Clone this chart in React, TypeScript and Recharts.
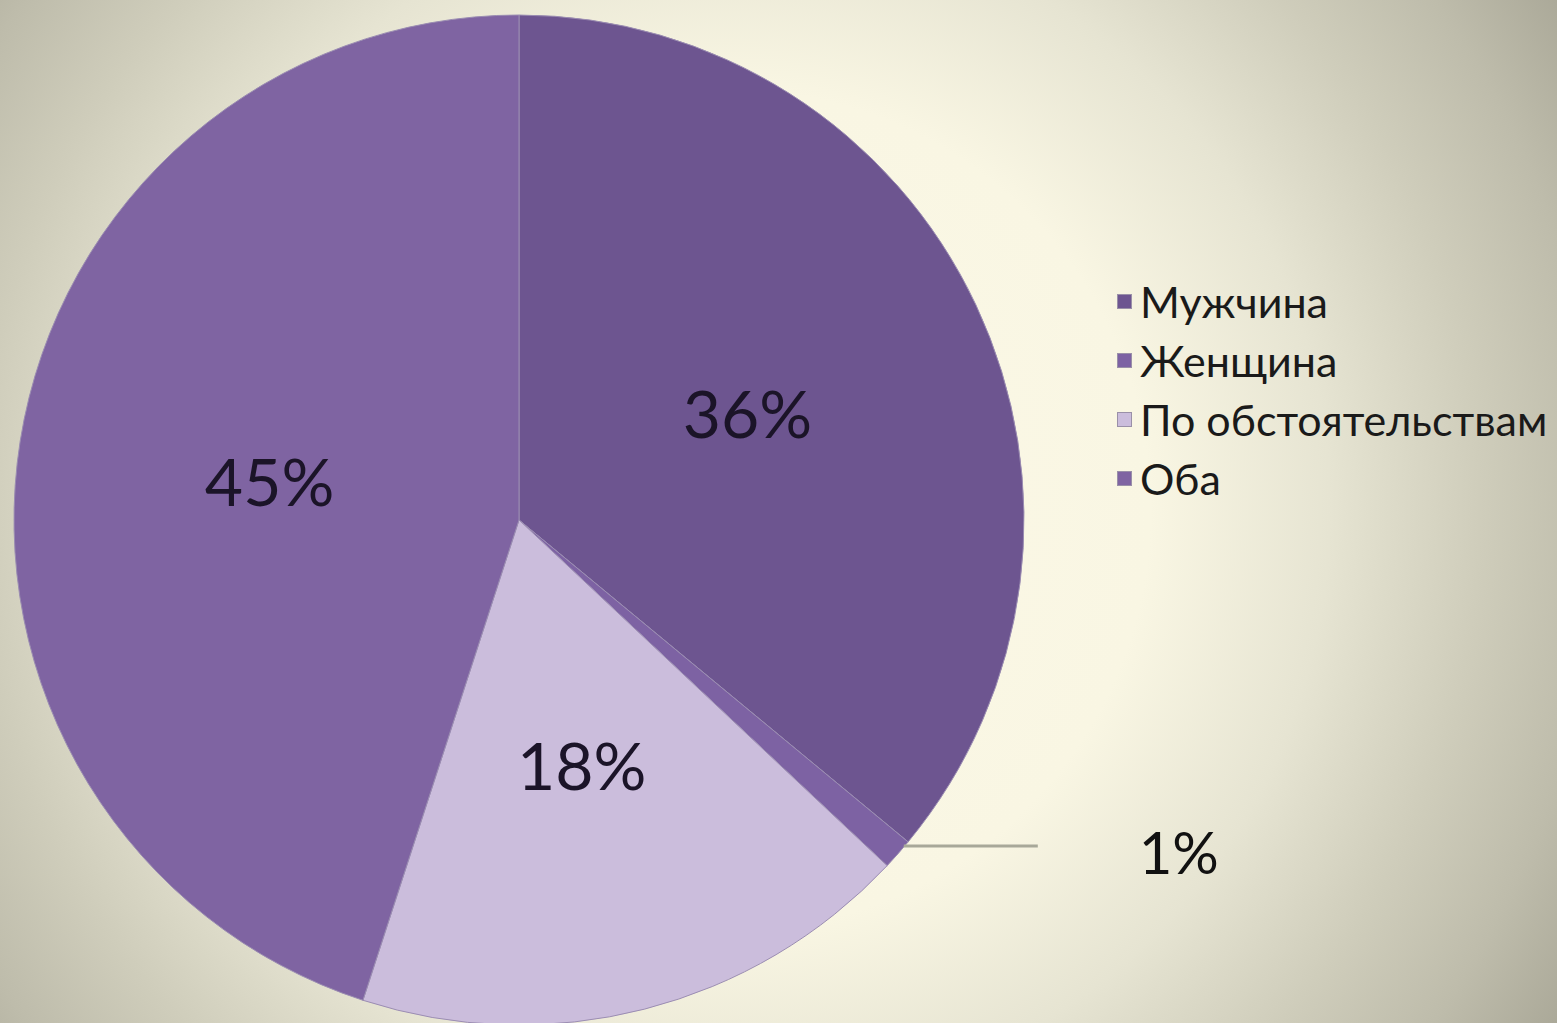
import React from "react";
import { PieChart, Pie, Cell, Legend } from "recharts";

const categories = ["Мужчина", "Женщина", "По обстоятельствам", "Оба"];
const values = [36, 1, 18, 45];
const colors = ["#6d5590", "#7d62a3", "#cbbddc", "#7f64a2"];

const data = categories.map((name, i) => ({ name, value: values[i] }));

const FONT = "Lato, 'Open Sans', sans-serif";
const RAD = Math.PI / 180;

const renderLabel = (props: any) => {
  const { cx, cy, midAngle, outerRadius, percent } = props;
  const sin = Math.sin(-midAngle * RAD);
  const cos = Math.cos(-midAngle * RAD);
  const txt = `${Math.round(percent * 100)}%`;
  if (percent < 0.05) {
    const x0 = cx + outerRadius * cos;
    const y0 = cy + outerRadius * sin - 8;
    return (
      <g>
        <line x1={x0 + 6} y1={y0} x2={x0 + 140} y2={y0} stroke="#a8a899" strokeWidth={3} />
        <text x={x0 + 281} y={y0 + 6} fill="#111" fontSize={58} fontFamily={FONT} textAnchor="middle" dominantBaseline="central">
          {txt}
        </text>
      </g>
    );
  }
  const r = outerRadius * 0.5;
  const x = cx + r * cos;
  const y = cy + r * sin;
  return (
    <text x={x} y={y} fill="#1b1428" fontSize={66} fontFamily={FONT} textAnchor="middle" dominantBaseline="central">
      {txt}
    </text>
  );
};

const renderLegend = () => (
  <div style={{ fontFamily: FONT, fontSize: 43, color: "#1a1a1a", lineHeight: "59px" }}>
    {categories.map((c, i) => (
      <div key={c} style={{ display: "flex", alignItems: "center", whiteSpace: "nowrap" }}>
        <span
          style={{
            display: "inline-block",
            width: 13,
            height: 13,
            background: colors[i],
            border: "1px solid #9a90a8",
            marginRight: 8,
          }}
        />
        {c}
      </div>
    ))}
  </div>
);

export default function App() {
  return (
    <div
      style={{
        position: "absolute",
        left: 0,
        top: 0,
        width: 1557,
        height: 1023,
        overflow: "hidden",
        background:
          "radial-gradient(circle 1000px at 730px 510px, #fcf9e7 0%, #f9f6e3 42%, #e6e4d2 60%, #cfcdbb 75%, #bebcab 87%, #a6a494 100%)",
      }}
    >
      <PieChart width={1557} height={1023} margin={{ top: 0, right: 0, bottom: 0, left: 0 }}>
        <Pie
          data={data}
          dataKey="value"
          nameKey="name"
          cx={519}
          cy={520}
          outerRadius={505}
          startAngle={90}
          endAngle={-270}
          label={renderLabel}
          labelLine={false}
          stroke="#9b8db2"
          strokeWidth={1}
          isAnimationActive={false}
        >
          {data.map((d, i) => (
            <Cell key={d.name} fill={colors[i]} />
          ))}
        </Pie>
        <Legend
          content={renderLegend}
          wrapperStyle={{ position: "absolute", left: 1117, top: 272, width: 440 }}
        />
      </PieChart>
    </div>
  );
}
